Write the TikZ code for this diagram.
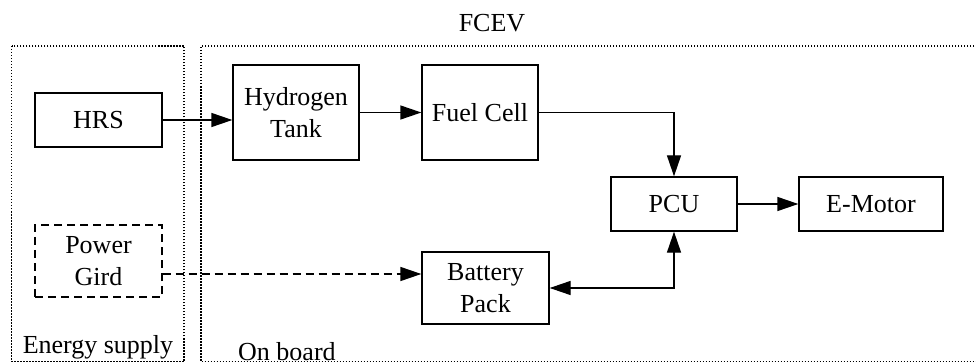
\documentclass[tikz,border=0pt]{standalone}
\usepackage{fontspec}
\setmainfont{Liberation Serif}
\usetikzlibrary{arrows.meta,calc}
\begin{document}
\begin{tikzpicture}[x=1pt,y=-1pt,
  every node/.style={font=\fontsize{26}{32}\selectfont, inner sep=0pt, align=center},
  blk/.style={draw, line width=1.3pt, minimum width=#1},
  dashblk/.style={draw, line width=1.3pt, dash pattern=on 8pt off 5pt, minimum width=#1},
  region/.style={draw, line width=1.2pt, dash pattern=on 1.5pt off 1.5pt},
  conn/.style={line width=1.3pt, -{Triangle[length=21pt,width=14pt]}},
  lbl/.style={inner sep=0pt}
]
\useasboundingbox (0,0) rectangle (976,363);
% regions
\draw[region] (11.5,46) rectangle (184,361.5);
\draw[region] (980,46) -- (201,46) -- (201,361.5) -- (980,361.5);
\node[lbl, anchor=base] (es) at (98,353) {Energy supply};
\node[lbl, anchor=base west] (ob) at (238,360) {On board};
\node[lbl, anchor=base] (fcev) at (492,32) {FCEV};
% blocks
\node[blk=127pt, minimum height=54pt] (hrs) at (98.5,120) {HRS};
\node[dashblk=127pt, minimum height=72pt] (pg) at (98.5,261) {Power\\Gird};
\node[blk=126pt, minimum height=95pt] (h2) at (296,112.5) {Hydrogen\\Tank};
\node[blk=116pt, minimum height=95pt] (fc) at (480,112.5) {Fuel Cell};
\node[blk=126pt, minimum height=54pt] (pcu) at (674,204) {PCU};
\node[blk=144pt, minimum height=54pt] (em) at (871,204) {E-Motor};
\node[blk=127pt, minimum height=72pt] (bat) at (485.5,288) {Battery\\Pack};
% connectors
\draw[conn] (hrs.east) -- (hrs.east -| h2.west);
\draw[conn] (h2.east) -- (fc.west);
\draw[conn] (fc.east) -| (pcu.north);
\draw[conn] (pcu.east) -- (em.west);
\draw[conn, {Triangle[length=21pt,width=14pt]}-{Triangle[length=21pt,width=14pt]}] (bat.east) -| (pcu.south);
\draw[conn, dash pattern=on 8pt off 5pt] ([yshift=-13pt]pg.east) -- ([yshift=14pt]bat.west);
\end{tikzpicture}
\end{document}
